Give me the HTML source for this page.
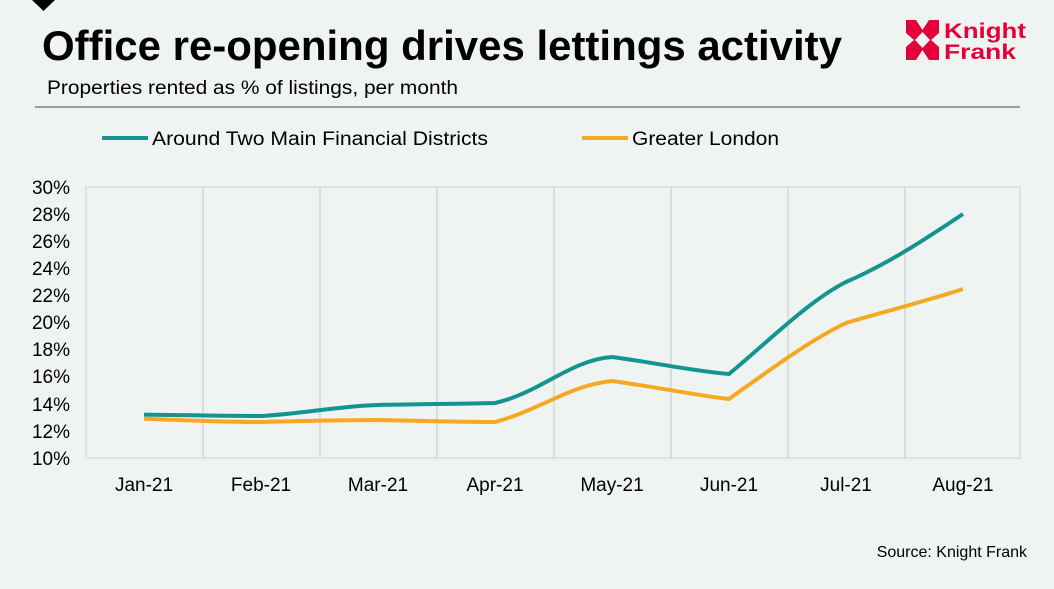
<!DOCTYPE html>
<html><head><meta charset="utf-8"><style>
body{margin:0;width:1054px;height:584px;background:#eff3f2;overflow:hidden;font-family:"Liberation Sans",Arial,sans-serif;}
</style></head><body>
<svg width="1054" height="584" xmlns="http://www.w3.org/2000/svg" font-family="Liberation Sans, Arial, sans-serif">
<rect width="1054" height="584" fill="#eff3f2"/>
<polygon points="32,0 55,0 43.5,11" fill="#000"/>
<text x="42" y="60" font-size="42" font-weight="bold" fill="#000" textLength="800" lengthAdjust="spacingAndGlyphs">Office re-opening drives lettings activity</text>
<text x="47" y="94" font-size="19" fill="#000" textLength="411" lengthAdjust="spacingAndGlyphs">Properties rented as % of listings, per month</text>
<line x1="35" y1="107" x2="1020" y2="107" stroke="#808080" stroke-width="1.5"/>
<g fill="#e4003b"><rect x="906" y="20" width="33" height="40"/></g>
<g fill="#eff3f2">
<polygon points="916,20 929,20 922.5,30"/>
<polygon points="916,60 929,60 922.5,50"/>
<polygon points="906,33 906,47 914,40"/>
<polygon points="939,33 939,47 931,40"/>
<polygon points="922.5,32 930,40 922.5,48 915,40"/>
</g>
<text x="944" y="38" font-size="21" font-weight="bold" fill="#e4003b" textLength="82" lengthAdjust="spacingAndGlyphs">Knight</text>
<text x="944" y="59" font-size="21" font-weight="bold" fill="#e4003b" textLength="72" lengthAdjust="spacingAndGlyphs">Frank</text>
<line x1="102" y1="138" x2="148" y2="138" stroke="#13948f" stroke-width="4"/>
<text x="152" y="145" font-size="19" fill="#000" textLength="336" lengthAdjust="spacingAndGlyphs">Around Two Main Financial Districts</text>
<line x1="582" y1="138" x2="628" y2="138" stroke="#f7a823" stroke-width="4"/>
<text x="632" y="145" font-size="19" fill="#000" textLength="147" lengthAdjust="spacingAndGlyphs">Greater London</text>
<rect x="86" y="187" width="934" height="271" fill="none" stroke="#d0d0d0" stroke-width="1"/>
<g stroke="#d0d0d0" stroke-width="1.3">
<line x1="203" y1="187" x2="203" y2="458"/><line x1="320" y1="187" x2="320" y2="458"/>
<line x1="437" y1="187" x2="437" y2="458"/><line x1="554" y1="187" x2="554" y2="458"/>
<line x1="671" y1="187" x2="671" y2="458"/><line x1="788" y1="187" x2="788" y2="458"/>
<line x1="905" y1="187" x2="905" y2="458"/>
</g>
<g font-size="19" fill="#000" text-anchor="end">
<text x="70" y="194">30%</text><text x="70" y="221">28%</text><text x="70" y="248">26%</text>
<text x="70" y="275">24%</text><text x="70" y="302">22%</text><text x="70" y="329">20%</text>
<text x="70" y="356">18%</text><text x="70" y="383">16%</text><text x="70" y="411">14%</text>
<text x="70" y="438">12%</text><text x="70" y="465">10%</text>
</g>
<g font-size="19" fill="#000" text-anchor="middle">
<text x="144" y="491">Jan-21</text><text x="261" y="491">Feb-21</text><text x="378" y="491">Mar-21</text>
<text x="495" y="491">Apr-21</text><text x="612" y="491">May-21</text><text x="729" y="491">Jun-21</text>
<text x="846" y="491">Jul-21</text><text x="963" y="491">Aug-21</text>
</g>
<path d="M144,414.6 C180,415 220,416 261,416 C300,414 340,406 378,405 C420,404 460,404 495,403 C540,393 570,360 612,357 C650,362 700,372 729,374 C770,340 810,300 846,282 C890,263 930,236 963,214" fill="none" stroke="#13948f" stroke-width="4" stroke-linejoin="round"/>
<path d="M144,418.7 C180,420 220,422 261,422 C300,421 340,420 378,420 C420,421 460,422 495,422 C540,410 570,385 612,381 C650,386 700,396 729,399 C770,370 810,340 846,323 C890,310 930,300 963,289" fill="none" stroke="#f7a823" stroke-width="4" stroke-linejoin="round"/>
<text x="1027" y="557" font-size="16" fill="#000" text-anchor="end">Source: Knight Frank</text>
</svg>
</body></html>
